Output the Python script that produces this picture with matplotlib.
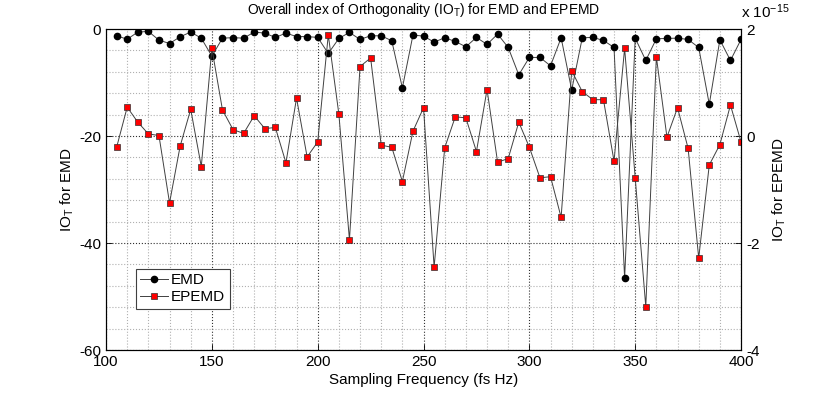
"""Overall index of orthogonality, EMD vs EPEMD"""

import numpy as np
import matplotlib
matplotlib.use("Agg")
import matplotlib.pyplot as plt
from matplotlib.ticker import MultipleLocator, FuncFormatter

freq = np.arange(105, 401, 5)

# IO_T for EMD (left axis)
io_emd = [-1.25, -1.9, -0.56, -0.44, -2.06, -2.7, -1.44, -0.56, -1.7, -5.06,
          -1.7, -1.6, -1.7, -0.56, -0.75, -1.56, -0.75, -1.4, -1.4, -1.56,
          -4.56, -1.75, -0.62, -1.94, -1.25, -1.25, -2.19, -11.0, -1.12, -1.31,
          -2.44, -1.62, -2.31, -3.31, -1.56, -2.87, -0.94, -3.44, -8.56, -5.3,
          -5.3, -6.87, -1.62, -11.4, -1.62, -1.56, -2.12, -3.44, -46.6, -1.69,
          -5.87, -1.81, -1.75, -1.69, -1.94, -3.44, -14.06, -2.0, -5.87, -1.94]

# IO_T for EPEMD (right axis, units of 1e-15)
io_epemd = [-0.21, 0.54, 0.26, 0.04, 0.01, -1.25, -0.19, 0.50, -0.57, 1.64,
            0.49, 0.12, 0.05, 0.38, 0.14, 0.16, -0.50, 0.71, -0.39, -0.11,
            1.89, 0.41, -1.94, 1.30, 1.46, -0.17, -0.21, -0.85, 0.09, 0.53,
            -2.45, -0.22, 0.36, 0.34, -0.29, 0.87, -0.49, -0.42, 0.26, -0.21,
            -0.78, -0.76, -1.52, 1.22, 0.83, 0.68, 0.68, -0.47, 1.64, -0.78,
            -3.19, 1.48, -0.02, 0.53, -0.23, -2.28, -0.54, -0.16, 0.58, -0.11]

plt.rcParams['font.family'] = ['Liberation Sans', 'DejaVu Sans']
plt.rcParams['font.size'] = 11
plt.rcParams['axes.unicode_minus'] = False
plt.rcParams['mathtext.fontset'] = 'custom'
plt.rcParams['mathtext.rm'] = 'Liberation Sans'
plt.rcParams['mathtext.it'] = 'Liberation Sans'


def style_axis(ax):
    ax.tick_params(direction='in', length=4, width=0.6, which='major')
    ax.tick_params(which='minor', length=0)
    for s in ax.spines.values():
        s.set_linewidth(0.8)
    ax.xaxis.get_offset_text().set_visible(False)
    ax.yaxis.get_offset_text().set_visible(False)


def main():
    fig = plt.figure(figsize=(8.22, 3.93), dpi=100)
    ax1 = fig.add_axes([0.129, 0.1094, 0.7725, 0.8166])
    ax2 = ax1.twinx()

    l1, = ax1.plot(freq, io_emd, '-', color='#404040', lw=0.7,
                   marker='o', ms=4.5, mfc='black', mec='black', label='EMD')
    l2, = ax2.plot(freq, np.array(io_epemd) * 1e-15, '-', color='#404040', lw=0.7,
                   marker='s', ms=4, mfc='red', mec='#303030', mew=0.5,
                   label='EPEMD')

    ax1.set_xlim(100, 400)
    ax1.set_ylim(-60, 0)
    ax2.set_ylim(-4e-15, 2e-15)
    ax1.xaxis.set_major_locator(MultipleLocator(50))
    ax1.xaxis.set_minor_locator(MultipleLocator(10))
    ax1.yaxis.set_major_locator(MultipleLocator(20))
    ax1.yaxis.set_minor_locator(MultipleLocator(4))
    ax2.yaxis.set_major_locator(MultipleLocator(2e-15))
    ax2.yaxis.set_major_formatter(FuncFormatter(lambda v, p: '%g' % round(v * 1e15)))
    ax2.text(1.0, 1.024, 'x 10$^{-15}$', transform=ax2.transAxes,
             ha='left', va='bottom', fontsize=11)

    ax1.grid(True, which='major', linestyle=':', color='#303030', lw=0.8)
    ax1.grid(True, which='minor', linestyle=':', color='#b0b0b0', lw=0.8)
    style_axis(ax1)
    style_axis(ax2)

    ax1.set_xlabel('Sampling Frequency (fs Hz)', labelpad=3)
    ax1.set_ylabel('IO$_T$ for EMD', labelpad=2)
    ax2.set_ylabel('IO$_T$ for EPEMD', labelpad=8)
    ax1.set_title('Overall index of Orthogonality (IO$_T$) for EMD and EPEMD',
                  fontsize=10, pad=11)

    leg = ax2.legend([l1, l2], ['EMD', 'EPEMD'], loc='lower left',
                     bbox_to_anchor=(0.047, 0.128), borderaxespad=0,
                     fancybox=False, framealpha=1, edgecolor='#404040',
                     handlelength=1.8, handletextpad=0.2, borderpad=0.3,
                     labelspacing=0.2)
    leg.get_frame().set_linewidth(0.8)

    fig.savefig('out.png', dpi=100)


if __name__ == "__main__":
    main()
